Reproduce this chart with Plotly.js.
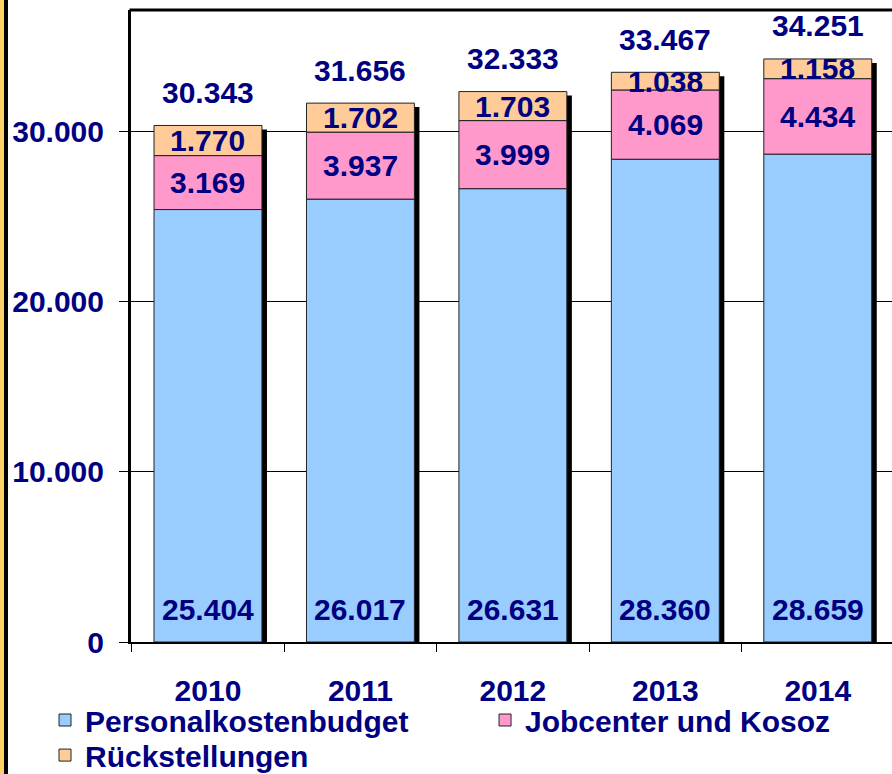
<!DOCTYPE html>
<html>
<head>
<meta charset="utf-8">
<script src="https://cdn.plot.ly/plotly-3.0.1.min.js"></script>
<style>
  html, body { margin: 0; padding: 0; overflow: hidden; background: #fff; }
  #wrap { position: relative; width: 892px; height: 774px; overflow: hidden; }
  #chart { position: absolute; left: 0; top: 0; }
  #strip1 { position: absolute; left: 0; top: 0; width: 4px; height: 774px; background: #FFD166; z-index: 5; }
  #strip2 { position: absolute; left: 4px; top: 0; width: 4px; height: 774px; background: #000; z-index: 5; }
</style>
</head>
<body>
<div id="wrap">
  <div id="chart"></div>
  <div id="strip1"></div>
  <div id="strip2"></div>
</div>
<script>
// ---- data ----
const years = ['2010', '2011', '2012', '2013', '2014'];
const personalkosten = [25404, 26017, 26631, 28360, 28659];
const jobcenter = [3169, 3937, 3999, 4069, 4434];
const rueckstellungen = [1770, 1702, 1703, 1038, 1158];
const totals = [30343, 31656, 32333, 33467, 34251];
const seriesNames = ['Personalkostenbudget', 'Jobcenter und Kosoz', 'Rückstellungen'];
const yTicks = [0, 10000, 20000, 30000];

// ---- style ----
const NAVY = '#000080';
const FONT = 'Liberation Sans, Arial, sans-serif';
const FS = 30;
const colors = ['#99CCFF', '#FF99CC', '#FFCC99'];
const barWidth = 0.708;

function fmt(v) {
  const s = String(Math.round(v));
  return s.replace(/\B(?=(\d{3})+(?!\d))/g, '.');
}

const baseJob = personalkosten.slice();
const baseRueck = personalkosten.map((v, i) => v + jobcenter[i]);

// shadow (drawn first, under the bars)
const shadow = {
  type: 'bar', x: years, y: totals, base: totals.map(() => -235),
  width: barWidth, offset: -barWidth / 2 + 0.033,
  marker: { color: '#000', line: { width: 0 } },
  showlegend: false, hoverinfo: 'skip'
};

const line = { color: '#222', width: 1 };
const tPers = { type: 'bar', name: seriesNames[0], x: years, y: personalkosten, base: personalkosten.map(() => 0),
  width: barWidth, marker: { color: colors[0], line: line }, legend: 'legend' };
const tJob = { type: 'bar', name: seriesNames[1], x: years, y: jobcenter, base: baseJob,
  width: barWidth, marker: { color: colors[1], line: line }, legend: 'legend2' };
const tRueck = { type: 'bar', name: seriesNames[2], x: years, y: rueckstellungen, base: baseRueck,
  width: barWidth, marker: { color: colors[2], line: line }, legend: 'legend3' };

const annFont = { family: FONT, size: FS, color: NAVY, weight: 'bold' };
const annotations = [];
years.forEach((yr, i) => {
  annotations.push({ xref: 'x', yref: 'y', x: i, y: 0, yshift: 33, text: fmt(personalkosten[i]),
    showarrow: false, yanchor: 'middle', font: annFont });
  annotations.push({ xref: 'x', yref: 'y', x: i, y: baseJob[i] + jobcenter[i] / 2, text: fmt(jobcenter[i]),
    showarrow: false, yanchor: 'middle', font: annFont });
  annotations.push({ xref: 'x', yref: 'y', x: i, y: baseRueck[i] + rueckstellungen[i] / 2, text: fmt(rueckstellungen[i]),
    showarrow: false, yanchor: 'middle', font: annFont });
  annotations.push({ xref: 'x', yref: 'y', x: i, y: totals[i], yshift: 33, text: fmt(totals[i]),
    showarrow: false, yanchor: 'middle', font: annFont });
});

const legFont = { family: FONT, size: FS, color: NAVY, weight: 'bold' };
function leg(x, y) {
  return { x: x, y: y, xanchor: 'left', yanchor: 'top', orientation: 'h',
    bgcolor: 'rgba(0,0,0,0)', borderwidth: 0, font: legFont };
}

const layout = {
  width: 896, height: 774,
  margin: { l: 131, r: 2, t: 10, b: 132, pad: 0, autoexpand: false },
  paper_bgcolor: 'rgba(0,0,0,0)', plot_bgcolor: '#fff',
  barmode: 'overlay',
  separators: ',.',
  showlegend: true,
  legend: leg(-0.1127, -0.0823),
  legend2: leg(0.464, -0.0823),
  legend3: leg(-0.1127, -0.1378),
  xaxis: {
    type: 'category', range: [-0.505, 4.5],
    showline: true, linecolor: '#000', linewidth: 2,
    ticks: 'outside', tickson: 'boundaries', ticklen: 8, tickcolor: '#000', tickwidth: 1,
    ticklabelstandoff: 21,
    tickfont: { family: FONT, size: FS, color: NAVY, weight: 'bold' },
    showgrid: false, zeroline: false, fixedrange: true
  },
  yaxis: {
    range: [0, 37126], tickvals: yTicks, tickformat: ',d',
    showline: true, linecolor: '#000', linewidth: 3,
    ticks: 'outside', ticklen: 9, tickcolor: '#000', tickwidth: 1,
    ticklabelstandoff: 9,
    tickfont: { family: FONT, size: FS, color: NAVY, weight: 'bold' },
    showgrid: true, gridcolor: '#000', gridwidth: 1, zeroline: false, fixedrange: true
  },
  shapes: [
    { type: 'line', xref: 'paper', yref: 'paper', x0: -0.002, x1: 1.01, y0: 1, y1: 1,
      line: { color: '#000', width: 3 } }
  ],
  annotations: annotations
};

Plotly.newPlot('chart', [shadow, tPers, tJob, tRueck], layout, { staticPlot: true, displayModeBar: false });
</script>
</body>
</html>
